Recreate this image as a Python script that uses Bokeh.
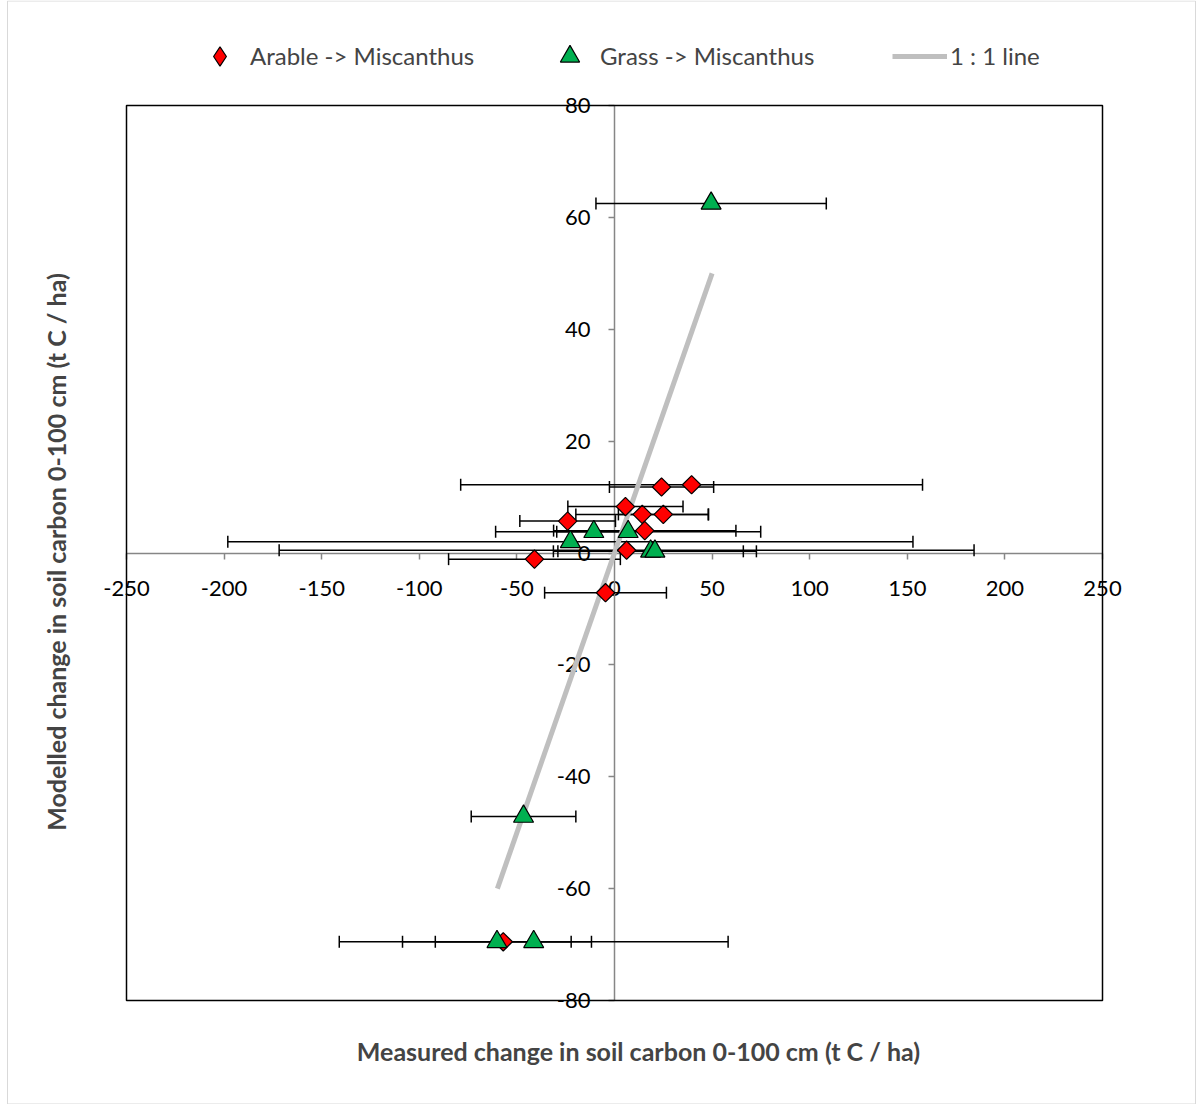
from bokeh.plotting import figure
from bokeh.models import (ColumnDataSource, Whisker, TeeHead, LinearAxis, FixedTicker,
                          Legend, LegendItem, Label, BoxAnnotation, PrintfTickFormatter)
from bokeh.embed import file_html
from bokeh.resources import INLINE
import numpy as np

# ---- data ----
arable_x = [39.5, 24.1, 5.6, 14.2, 25.0, -24.0, 15.5, 6.2, -41.0, -4.6, -57.0]
arable_y = [12.2, 11.8, 8.3, 6.9, 6.9, 5.7, 4.0, 0.5, -1.1, -7.1, -69.5]
arable_err = [118.3, 26.7, 29.5, 34.0, 23.0, 24.5, 46.7, 178.0, 44.0, 31.2, 34.8]

grass_x = [49.5, -10.6, 7.0, -22.6, 18.5, 20.7, -46.6, -60.2, -41.4]
grass_y = [62.5, 3.8, 3.8, 2.0, 0.3, 0.3, -47.1, -69.5, -69.5]
grass_err = [59.0, 19.0, 67.9, 175.5, 47.5, 52.0, 26.8, 48.4, 99.6]

line_x = [-60, 50]
line_y = [-60, 50]

x_min, x_max = -250, 250
y_min, y_max = -80, 80
x_ticks = [-250, -200, -150, -100, -50, 0, 50, 100, 150, 200, 250]
y_ticks = [-80, -60, -40, -20, 0, 20, 40, 60, 80]

legend_labels = ["Arable -> Miscanthus", "Grass -> Miscanthus", "1 : 1 line"]
x_title = "Measured change in soil carbon 0-100 cm (t C / ha)"
y_title = "Modelled change in soil carbon 0-100 cm (t C / ha)"

FONT = "Lato"

# ---- layout (pixels) ----
W, H = 1196, 1104
PL, PR, PT, PB = 126, 1102, 105, 1000        # plot box in canvas pixels
SX = (PR - PL) / (x_max - x_min)
SY = (PB - PT) / (y_max - y_min)
x_start = x_min - PL / SX
x_end = x_max + (W - PR) / SX
y_end = y_max + PT / SY
y_start = y_min - (H - PB) / SY

def px_x(px):
    return x_start + px / SX

def px_y(py):
    return y_end - py / SY

p = figure(width=W, height=H, x_range=(x_start, x_end), y_range=(y_start, y_end),
           output_backend="svg", toolbar_location=None,
           x_axis_type=None, y_axis_type=None,
           min_border=0)
p.xgrid.visible = False
p.ygrid.visible = False
p.outline_line_color = None
p.background_fill_color = "white"
p.border_fill_color = "white"

# outer chart border
p.add_layout(BoxAnnotation(left=px_x(7), right=px_x(1195), top=px_y(0.5), bottom=px_y(1103.5),
                           fill_alpha=0, line_color="#d9d9d9", line_alpha=1, line_width=1,
                           level="underlay"))

def make_src(xs, ys, errs):
    xs = np.array(xs, dtype=float)
    ys = np.array(ys, dtype=float)
    es = np.array(errs, dtype=float)
    return ColumnDataSource(dict(x=xs, y=ys, lo=xs - es, hi=xs + es))

src_a = make_src(arable_x, arable_y, arable_err)
src_g = make_src(grass_x, grass_y, grass_err)

# axes crossing at zero
xax = LinearAxis(fixed_location=0, ticker=FixedTicker(ticks=x_ticks), bounds=(x_min, x_max))
yax = LinearAxis(fixed_location=0, ticker=FixedTicker(ticks=y_ticks), bounds=(y_min, y_max))
for ax in (xax, yax):
    ax.axis_line_color = "#868686"
    ax.axis_line_width = 1.5
    ax.major_tick_line_color = "#868686"
    ax.major_tick_line_width = 1.5
    ax.major_tick_out = 6
    ax.major_tick_in = 0
    ax.minor_tick_line_color = None
    ax.major_label_text_font = FONT
    ax.major_label_text_font_size = "22px"
    ax.major_label_text_color = "black"
    ax.formatter = PrintfTickFormatter(format="%d")
    ax.level = "underlay"
xax.major_label_standoff = 22
yax.major_label_standoff = 18
p.add_layout(xax, "below")
p.add_layout(yax, "left")

for src in (src_a, src_g):
    w = Whisker(source=src, base="y", lower="lo", upper="hi", dimension="width",
                line_color="black", line_width=1.5,
                lower_head=TeeHead(size=12, line_color="black", line_width=1.5),
                upper_head=TeeHead(size=12, line_color="black", line_width=1.5),
                level="underlay")
    p.add_layout(w)

# plot box
p.add_layout(BoxAnnotation(left=x_min, right=x_max, bottom=y_min, top=y_max,
                           fill_alpha=0, line_color="black", line_alpha=1, line_width=1.5))

r_line = p.line(line_x, line_y, line_color="#BFBFBF", line_width=5)

r_a = p.scatter("x", "y", source=src_a, marker="square", angle=np.pi / 4, size=13,
                fill_color="#FF0000", line_color="black", line_width=1.2)
r_g = p.scatter("x", "y", source=src_g, marker="triangle", size=20,
                fill_color="#00B050", line_color="black", line_width=1.2)

# legend-only diamond (the legend cannot rotate markers)
r_a_leg = p.scatter(x=[np.nan], y=[np.nan], marker="diamond", size=20,
                    fill_color="#FF0000", line_color="black", line_width=1.2)

# axis titles
p.add_layout(Label(x=638, y=H - 1050, x_units="screen", y_units="screen", text=x_title,
                   text_align="center", text_baseline="middle", text_font=FONT,
                   text_font_size="25px", text_font_style="bold"))
p.add_layout(Label(x=55, y=H - 551.5, x_units="screen", y_units="screen", text=y_title,
                   angle=np.pi / 2, text_align="center", text_baseline="middle",
                   text_font=FONT, text_font_size="25px", text_font_style="bold"))

GH = 48
legend = Legend(items=[LegendItem(label=legend_labels[0], renderers=[r_a_leg]),
                       LegendItem(label=legend_labels[1], renderers=[r_g]),
                       LegendItem(label=legend_labels[2], renderers=[r_line])],
                orientation="horizontal", location=(187, H - 55.5 - (GH + 10) / 2),
                margin=0, padding=5,
                glyph_width=55, glyph_height=GH, label_height=GH,
                label_standoff=3, label_width=270, spacing=22,
                label_text_font=FONT, label_text_font_size="24px",
                border_line_alpha=0, background_fill_alpha=0)
p.add_layout(legend, "center")

open("out.html", "w").write(file_html(p, INLINE))
